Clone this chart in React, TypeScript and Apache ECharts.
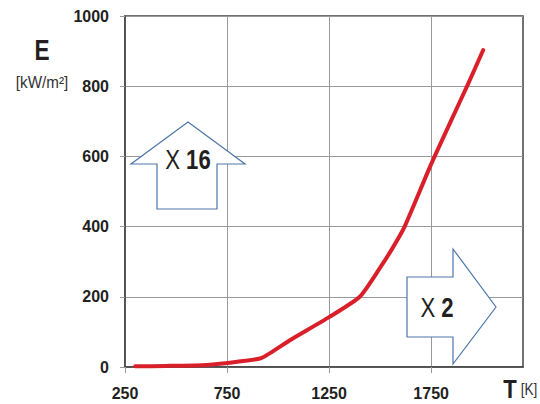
import React, { useEffect, useRef } from "react";
import * as echarts from "echarts";

const temperatures = [300, 450, 650, 800, 920, 1060, 1250, 1400, 1500, 1560, 1620, 1750, 1850, 1930, 2005];
const energies = [2, 3, 6, 15, 26, 77, 142, 200, 283, 338, 400, 578, 705, 805, 903];
const xTicks = [250, 750, 1250, 1750];
const yTicks = [0, 200, 400, 600, 800, 1000];

const TEXT = "#231f20";
const ARROW = "#4f76aa";
const FONT = "Liberation Sans, Arial, sans-serif";

export default function App() {
  const ref = useRef<HTMLDivElement>(null);
  useEffect(() => {
    if (!ref.current) return;
    const chart = echarts.init(ref.current, undefined, { renderer: "svg" });
    const data = temperatures.map((t, i) => [t, energies[i]]);
    chart.setOption({
      animation: false,
      backgroundColor: "#ffffff",
      grid: {
        left: 125,
        right: 17,
        top: 16,
        bottom: 37,
        show: true,
        borderColor: "#444",
        borderWidth: 1.5,
        backgroundColor: "transparent",
      },
      xAxis: {
        type: "value",
        min: 250,
        max: 2200,
        axisLine: { show: true, lineStyle: { color: "#444", width: 1.5 } },
        axisTick: { show: true, length: 6, customValues: xTicks, lineStyle: { color: "#999" } },
        axisLabel: {
          customValues: xTicks,
          color: TEXT,
          fontSize: 16,
          fontWeight: "bold",
          fontFamily: FONT,
          margin: 18,
          formatter: (v: number) => String(v),
        },
        splitLine: { show: true, lineStyle: { color: "#999", width: 1 } },
      },
      yAxis: {
        type: "value",
        min: 0,
        max: 1000,
        interval: 200,
        axisLine: { show: true, lineStyle: { color: "#444", width: 1.5 } },
        axisTick: { show: true, length: 5, lineStyle: { color: "#999" } },
        axisLabel: {
          color: TEXT,
          fontSize: 16,
          fontWeight: "bold",
          fontFamily: FONT,
          margin: 16,
          formatter: (v: number) => (yTicks.includes(v) ? String(v) : ""),
        },
        splitLine: { show: true, lineStyle: { color: "#999", width: 1 } },
      },
      series: [
        {
          type: "line",
          data,
          smooth: 0.2,
          symbol: "none",
          lineStyle: { color: "#d9202a", width: 4, cap: "round", join: "round" },
          z: 3,
        },
      ],
      graphic: [
        {
          type: "polygon",
          z: 10,
          shape: {
            points: [
              [188, 122],
              [245, 164],
              [217, 164],
              [217, 209],
              [157, 209],
              [157, 164],
              [131, 164],
            ],
          },
          style: { fill: "#fff", stroke: ARROW, lineWidth: 1.2 },
        },
        {
          type: "polygon",
          z: 10,
          shape: {
            points: [
              [407, 277],
              [453, 277],
              [453, 249],
              [496, 307],
              [453, 364],
              [453, 337],
              [407, 337],
            ],
          },
          style: { fill: "#fff", stroke: ARROW, lineWidth: 1.2 },
        },
        {
          type: "text",
          z: 11,
          x: 188,
          y: 160,
          scaleX: 0.82,
          style: {
            text: "{a|X} {b|16}",
            align: "center",
            verticalAlign: "middle",
            rich: {
              a: { fontSize: 27, fontWeight: "normal", fill: TEXT, fontFamily: FONT, padding: [0, 4, 0, 0] },
              b: { fontSize: 27, fontWeight: "bold", fill: TEXT, fontFamily: FONT },
            },
          },
        },
        {
          type: "text",
          z: 11,
          x: 437,
          y: 308,
          scaleX: 0.82,
          style: {
            text: "{a|X} {b|2}",
            align: "center",
            verticalAlign: "middle",
            rich: {
              a: { fontSize: 27, fontWeight: "normal", fill: TEXT, fontFamily: FONT, padding: [0, 4, 0, 0] },
              b: { fontSize: 27, fontWeight: "bold", fill: TEXT, fontFamily: FONT },
            },
          },
        },
        {
          type: "text",
          x: 42,
          y: 50,
          scaleX: 0.78,
          style: {
            text: "E",
            align: "center",
            verticalAlign: "middle",
            fontSize: 29,
            fontWeight: "bold",
            fill: TEXT,
            fontFamily: FONT,
          },
        },
        {
          type: "text",
          x: 42,
          y: 82,
          scaleX: 0.95,
          style: {
            text: "[kW/m²]",
            align: "center",
            verticalAlign: "middle",
            fontSize: 16,
            fill: "#333",
            fontFamily: FONT,
          },
        },
        {
          type: "text",
          x: 510,
          y: 389,
          scaleX: 0.85,
          style: {
            text: "T",
            align: "center",
            verticalAlign: "middle",
            fontSize: 26,
            fontWeight: "bold",
            fill: TEXT,
            fontFamily: FONT,
          },
        },
        {
          type: "text",
          x: 529,
          y: 390,
          scaleX: 0.85,
          style: {
            text: "[K]",
            align: "center",
            verticalAlign: "middle",
            fontSize: 16,
            fill: "#333",
            fontFamily: FONT,
          },
        },
      ],
    });
    return () => chart.dispose();
  }, []);
  return <div ref={ref} style={{ position: "fixed", left: 0, top: 0, width: 540, height: 404 }} />;
}
